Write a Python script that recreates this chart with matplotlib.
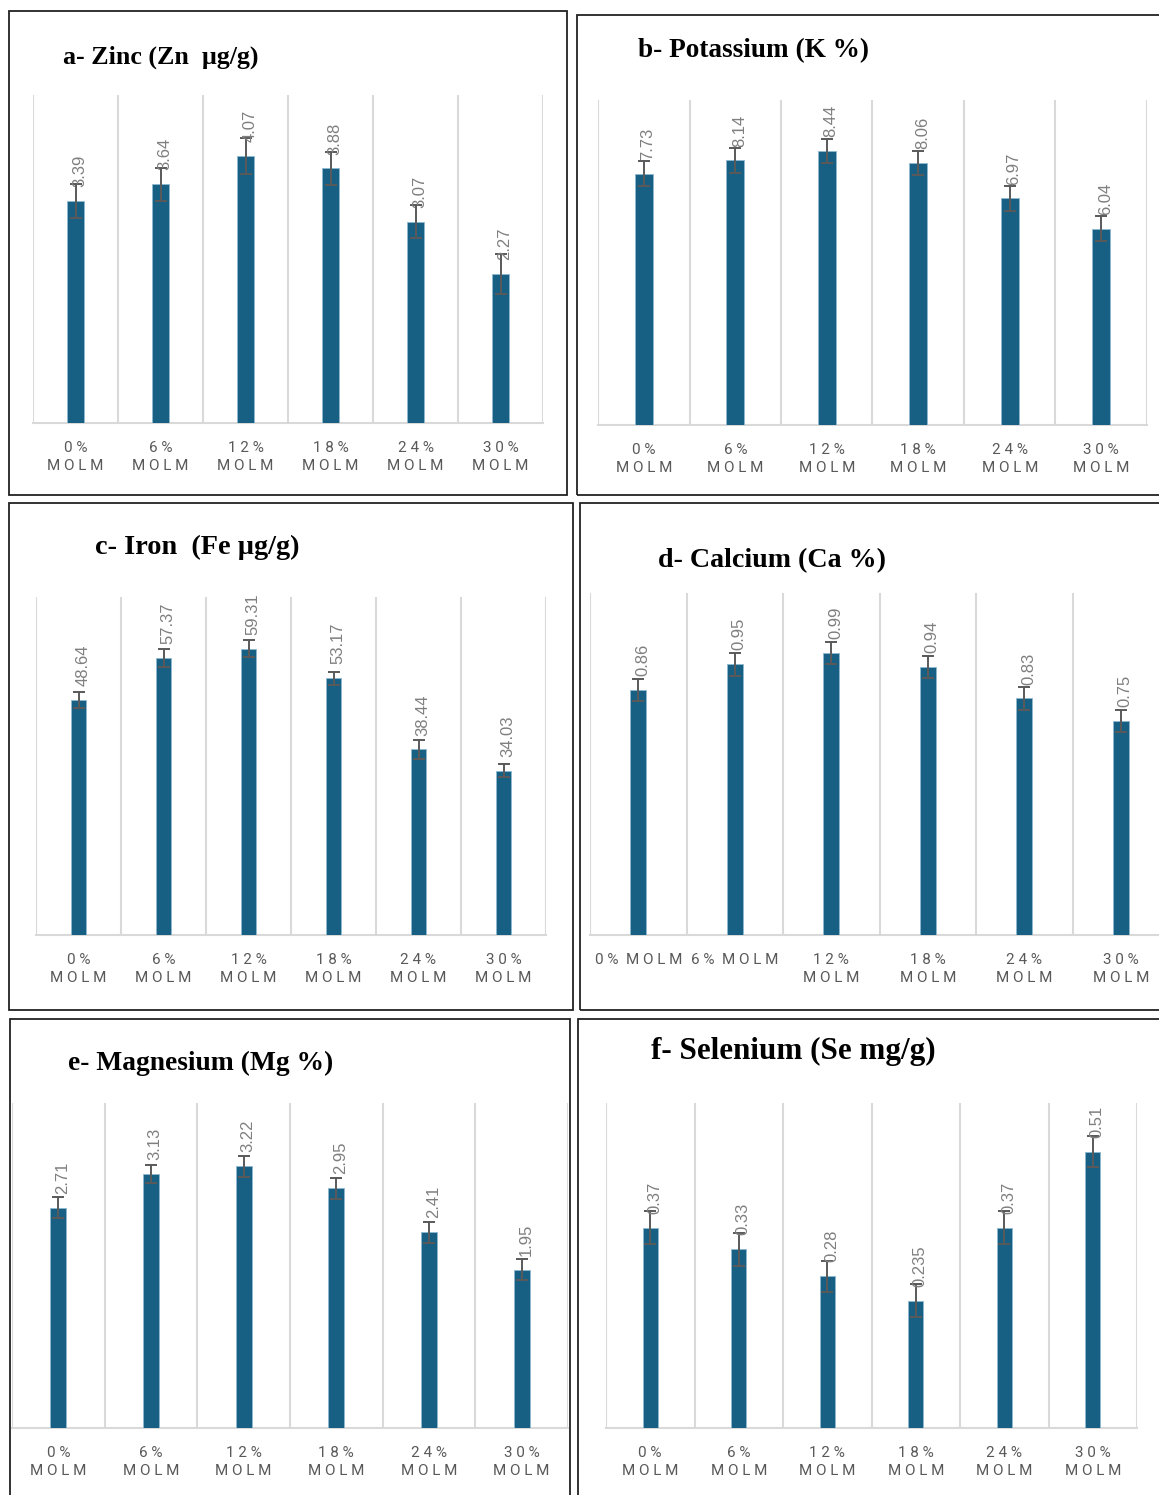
import numpy as np
import matplotlib
matplotlib.use("Agg")
import matplotlib.pyplot as plt
from matplotlib.patches import Rectangle

# ---------------- data ----------------
categories = ["0% MOLM", "6% MOLM", "12% MOLM", "18% MOLM", "24% MOLM", "30% MOLM"]

zinc_values = [3.39, 3.64, 4.07, 3.88, 3.07, 2.27]
zinc_errors = [0.26, 0.25, 0.27, 0.25, 0.25, 0.30]

potassium_values = [7.73, 8.14, 8.44, 8.06, 6.97, 6.04]
potassium_errors = [0.39, 0.38, 0.37, 0.38, 0.38, 0.38]

iron_values = [48.64, 57.37, 59.31, 53.17, 38.44, 34.03]
iron_errors = [1.7, 1.9, 1.7, 1.4, 1.9, 1.4]

calcium_values = [0.86, 0.95, 0.99, 0.94, 0.83, 0.75]
calcium_errors = [0.039, 0.040, 0.039, 0.038, 0.039, 0.039]

magnesium_values = [2.71, 3.13, 3.22, 2.95, 2.41, 1.95]
magnesium_errors = [0.13, 0.11, 0.13, 0.13, 0.13, 0.13]

selenium_values = [0.37, 0.33, 0.28, 0.235, 0.37, 0.51]
selenium_errors = [0.031, 0.030, 0.028, 0.030, 0.031, 0.029]
selenium_labels = ["0.37", "0.33", "0.28", "0.235", "0.37", "0.51"]

titles = ["a- Zinc (Zn  \u00b5g/g)", "b- Potassium (K %)", "c- Iron  (Fe \u00b5g/g)",
          "d- Calcium (Ca %)", "e- Magnesium (Mg %)", "f- Selenium (Se mg/g)"]
y_max = [5, 10, 70, 1.2, 4, 0.6]

# ---------------- style / layout ----------------
W, H = 1159, 1495
BAR = "#185F84"
ERR = "#595959"
LBL = "#7f7f7f"
TICK = "#595959"
GRID = "#d9d9d9"

fig = plt.figure(figsize=(W / 100, H / 100), dpi=100)
fig.patch.set_facecolor("white")

def fx(x): return x / W
def fy(y): return 1 - y / H

# panel frames (x0, y0, x1, y1) in pixels
frames = [(9, 11, 567, 495), (577, 15, 1162, 495),
          (9, 503, 573, 1010), (580, 503, 1162, 1010),
          (10, 1019, 570, 1498), (578, 1019, 1162, 1498)]
# axes areas
axes_px = [(33, 95, 543, 423), (598, 100, 1147, 425),
           (36, 597, 546, 935), (590, 593, 1169, 935),
           (12, 1103, 568, 1428), (606, 1103, 1137, 1428)]
title_pos = [(63, 57), (638, 51), (95, 547), (658, 561), (68, 1063), (651, 1051)]
title_size = [18.7, 19.6, 20.3, 20.2, 19.8, 22.4]
bar_width = [0.19, 0.2, 0.17, 0.17, 0.17, 0.17]

values_all = [zinc_values, potassium_values, iron_values, calcium_values,
              magnesium_values, selenium_values]
errors_all = [zinc_errors, potassium_errors, iron_errors, calcium_errors,
              magnesium_errors, selenium_errors]
labels_all = [[f"{v:.2f}" for v in zinc_values],
              [f"{v:.2f}" for v in potassium_values],
              [f"{v:.2f}" for v in iron_values],
              [f"{v:.2f}" for v in calcium_values],
              [f"{v:.2f}" for v in magnesium_values],
              selenium_labels]

def spaced(word):
    return " ".join(list(word))

def tick_text(cat, one_line=False):
    parts = cat.split(" ")
    if one_line:
        return "  ".join(spaced(p) for p in parts)
    return "\n".join(spaced(p) for p in parts)

for k in range(6):
    x0, y0, x1, y1 = frames[k]
    fig.add_artist(Rectangle((fx(x0), fy(y1)), (x1 - x0) / W, (y1 - y0) / H,
                             transform=fig.transFigure, fill=False,
                             edgecolor="#222222", linewidth=1.3))
    ax0, ay0, ax1, ay1 = axes_px[k]
    ax = fig.add_axes([fx(ax0), fy(ay1), (ax1 - ax0) / W, (ay1 - ay0) / H])
    ax.set_facecolor("none")
    xs = np.arange(len(categories))
    vals = values_all[k]
    errs = errors_all[k]
    ax.bar(xs, vals, width=bar_width[k], color=BAR, edgecolor="#8fb8cf",
           linewidth=0.6, zorder=3)
    ax.errorbar(xs, vals, yerr=errs, fmt="none", ecolor=ERR, elinewidth=1.4,
                capsize=4, capthick=1.4, zorder=4)
    for i, (v, t) in enumerate(zip(vals, labels_all[k])):
        ax.annotate(t, (xs[i], v), xytext=(3, 10), textcoords="offset points",
                    rotation=90, ha="center", va="bottom", fontsize=12,
                    color=LBL, family="Liberation Sans", zorder=5)
    ax.set_xlim(-0.5, len(categories) - 0.5)
    ax.set_ylim(0, y_max[k])
    ax.set_xticks(xs)
    if k == 3:
        tl = [tick_text(c, one_line=(i < 2)) for i, c in enumerate(categories)]
    else:
        tl = [tick_text(c) for c in categories]
    ax.set_xticklabels(tl, fontsize=11, color=TICK, family="Roboto",
                       linespacing=1.35)
    ax.tick_params(axis="x", length=0, pad=13)
    ax.set_xticks(np.arange(-0.5, len(categories)), minor=True)
    ax.tick_params(axis="x", which="minor", length=0)
    ax.grid(which="minor", axis="x", color=GRID, linewidth=1.5, zorder=0)
    ax.grid(which="major", visible=False)
    ax.set_yticks([])
    for s in ["top", "left", "right"]:
        ax.spines[s].set_visible(False)
    ax.spines["bottom"].set_color(GRID)
    ax.spines["bottom"].set_linewidth(1.5)
    tx, ty = title_pos[k]
    fig.text(fx(tx), fy(ty), titles[k], fontsize=title_size[k],
             fontweight="bold", family="Liberation Serif", ha="left",
             va="center", color="black")

fig.savefig("out.png", dpi=100, facecolor="white")
